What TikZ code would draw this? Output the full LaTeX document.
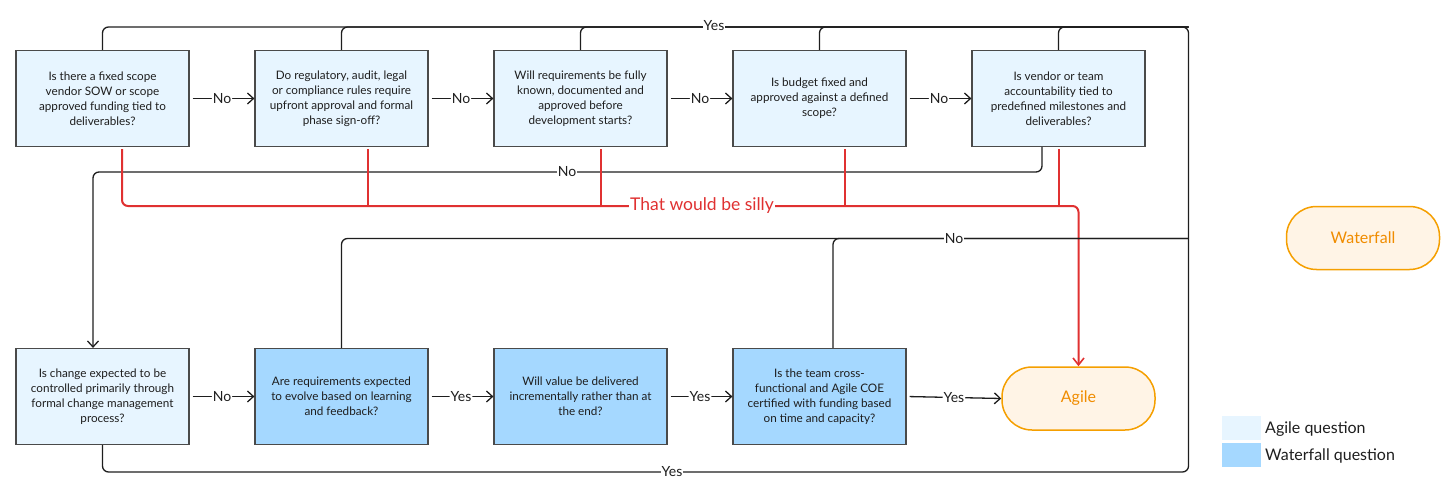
\documentclass[tikz,border=0pt]{standalone}
\usepackage{fontspec}
\setmainfont{Lato}
\usetikzlibrary{arrows.meta}
\definecolor{agileq}{HTML}{E7F5FF}
\definecolor{waterq}{HTML}{A5D8FF}
\definecolor{ink}{HTML}{1E1E1E}
\definecolor{boxline}{HTML}{4A4A4A}
\definecolor{orangeln}{HTML}{F59F00}
\definecolor{orangetx}{HTML}{F08C00}
\definecolor{orangefill}{HTML}{FFF4E6}
\definecolor{silly}{HTML}{E03131}
\tikzset{
  qbox/.style={draw=boxline, line width=1.2pt, minimum width=173pt, minimum height=96pt,
    align=center, inner sep=1pt, font=\fontsize{11.7pt}{15pt}\selectfont, text=ink},
  qa/.style={qbox, fill=agileq},
  qw/.style={qbox, fill=waterq},
  endnode/.style={draw=orangeln, line width=1.5pt, fill=orangefill, rounded corners=30pt,
    minimum width=153pt, minimum height=63pt, text=orangetx, font=\fontsize{16pt}{18pt}\selectfont},
  ln/.style={draw=ink, line width=1.3pt, rounded corners=6pt},
  arr/.style={ln, -{Straight Barb[length=6pt,width=11pt,line width=1.3pt]}},
  rd/.style={draw=silly, line width=2pt, rounded corners=6pt},
  rdarr/.style={rd, -{Straight Barb[length=7pt,width=11pt,line width=1.6pt]}},
  lbl/.style={fill=white, inner sep=1pt, text=ink, font=\fontsize{14pt}{16pt}\selectfont},
  silllbl/.style={fill=white, inner sep=1pt, text=silly, font=\fontsize{17.5pt}{19pt}\selectfont},
  swatch/.style={minimum width=39pt, minimum height=24pt, inner sep=0pt},
  legtext/.style={anchor=west, inner sep=0pt, text=ink, font=\fontsize{16pt}{18pt}\selectfont},
}
\begin{document}
\begin{tikzpicture}[x=1pt,y=-1pt]
\useasboundingbox (0,0) rectangle (1456,500);
% top row
\node[qa] (q1) at (102.5,98.5) {Is there a fixed scope\\vendor SOW or scope\\approved funding tied to\\deliverables?};
\node[qa] (q2) at (341.5,98.5) {Do regulatory, audit, legal\\or compliance rules require\\upfront approval and formal\\phase sign-off?};
\node[qa] (q3) at (580.5,98.5) {Will requirements be fully\\known, documented and\\approved before\\development starts?};
\node[qa] (q4) at (819.5,98.5) {Is budget fixed and\\approved against a defined\\scope?};
\node[qa] (q5) at (1058.5,98.5) {Is vendor or team\\accountability tied to\\predefined milestones and\\deliverables?};
% bottom row
\node[qa] (q6) at (102.5,396.5) {Is change expected to be\\controlled primarily through\\formal change management\\process?};
\node[qw] (q7) at (341.5,396.5) {Are requirements expected\\to evolve based on learning\\and feedback?};
\node[qw] (q8) at (580.5,396.5) {Will value be delivered\\incrementally rather than at\\the end?};
\node[qw] (q9) at (819.5,396.5) {Is the team cross-\\functional and Agile COE\\certified with funding based\\on time and capacity?};
% end nodes
\node[endnode] (agile) at (1078.5,398.5) {Agile};
\node[endnode] (waterfall) at (1363,238) {Waterfall};
% helper coordinates
\coordinate (ytr) at (1188.5,27);
\coordinate (ybr) at (1188.5,472);
\coordinate (nL) at (93,172);
\coordinate (nR) at (1188.5,238.5);
\coordinate (rR) at (1078.5,206);
% top row No arrows
\draw[arr, shorten <=3pt] (q1.east) -- node[lbl] (l12) {No} (q2.west);
\draw[arr, shorten <=3pt] (q2.east) -- node[lbl] (l23) {No} (q3.west);
\draw[arr, shorten <=3pt] (q3.east) -- node[lbl] (l34) {No} (q4.west);
\draw[arr, shorten <=3pt] (q4.east) -- node[lbl] (l45) {No} (q5.west);
% Yes loop (top and bottom)
\draw[ln] (q1.north) |- (ytr) -- (ybr) -| (q6.south);
\draw[ln] (q2.north) |- (ytr);
\draw[ln] (q3.north) |- (ytr);
\draw[ln] (q4.north) |- (ytr);
\draw[ln] (q5.north) |- (ytr);
\node[lbl] (yesTop) at (714,26) {Yes};
\node[lbl] (yesBot) at (672,472) {Yes};
% No from q5 down to q6
\draw[arr] ([xshift=-16.5pt]q5.south) |- (nL) -- ([xshift=-9.5pt]q6.north);
\node[lbl] (noTop) at (567,172) {No};
% red silly lines
\draw[rdarr] ([xshift=19.5pt, yshift=-2pt]q1.south) |- (rR) -- (agile.north);
\draw[rd] ([xshift=26.5pt, yshift=-2pt]q2.south) -- ([xshift=26.5pt]q2.south |- rR);
\draw[rd] ([xshift=20.5pt, yshift=-2pt]q3.south) -- ([xshift=20.5pt]q3.south |- rR);
\draw[rd] ([xshift=25.5pt, yshift=-2pt]q4.south) -- ([xshift=25.5pt]q4.south |- rR);
\draw[rd] ([yshift=-2pt]q5.south) -- (q5.south |- rR);
\node[silllbl] (sillyLbl) at (702,206) {That would be silly};
% bottom row arrows
\draw[arr, shorten <=3pt] (q6.east) -- node[lbl] (l67) {No} (q7.west);
\draw[arr, shorten <=3pt] (q7.east) -- node[lbl] (l78) {Yes} (q8.west);
\draw[arr, shorten <=3pt] (q8.east) -- node[lbl] (l89) {Yes} (q9.west);
\draw[arr, shorten <=3pt] (q9.east) -- node[lbl] (l9a) {Yes} (agile.west);
% No loop from bottom row
\draw[ln] (q7.north) |- (nR);
\draw[ln] ([xshift=13.5pt]q9.north) |- (nR);
\node[lbl] (noMid) at (954,238.5) {No};
% legend
\node[swatch, fill=agileq] (lg1) at (1241.5,428) {};
\node[swatch, fill=waterq] (lg2) at (1241.5,455) {};
\node[legtext] (lg1t) at (1265,429) {Agile question};
\node[legtext] (lg2t) at (1265,456) {Waterfall question};
\end{tikzpicture}
\end{document}
